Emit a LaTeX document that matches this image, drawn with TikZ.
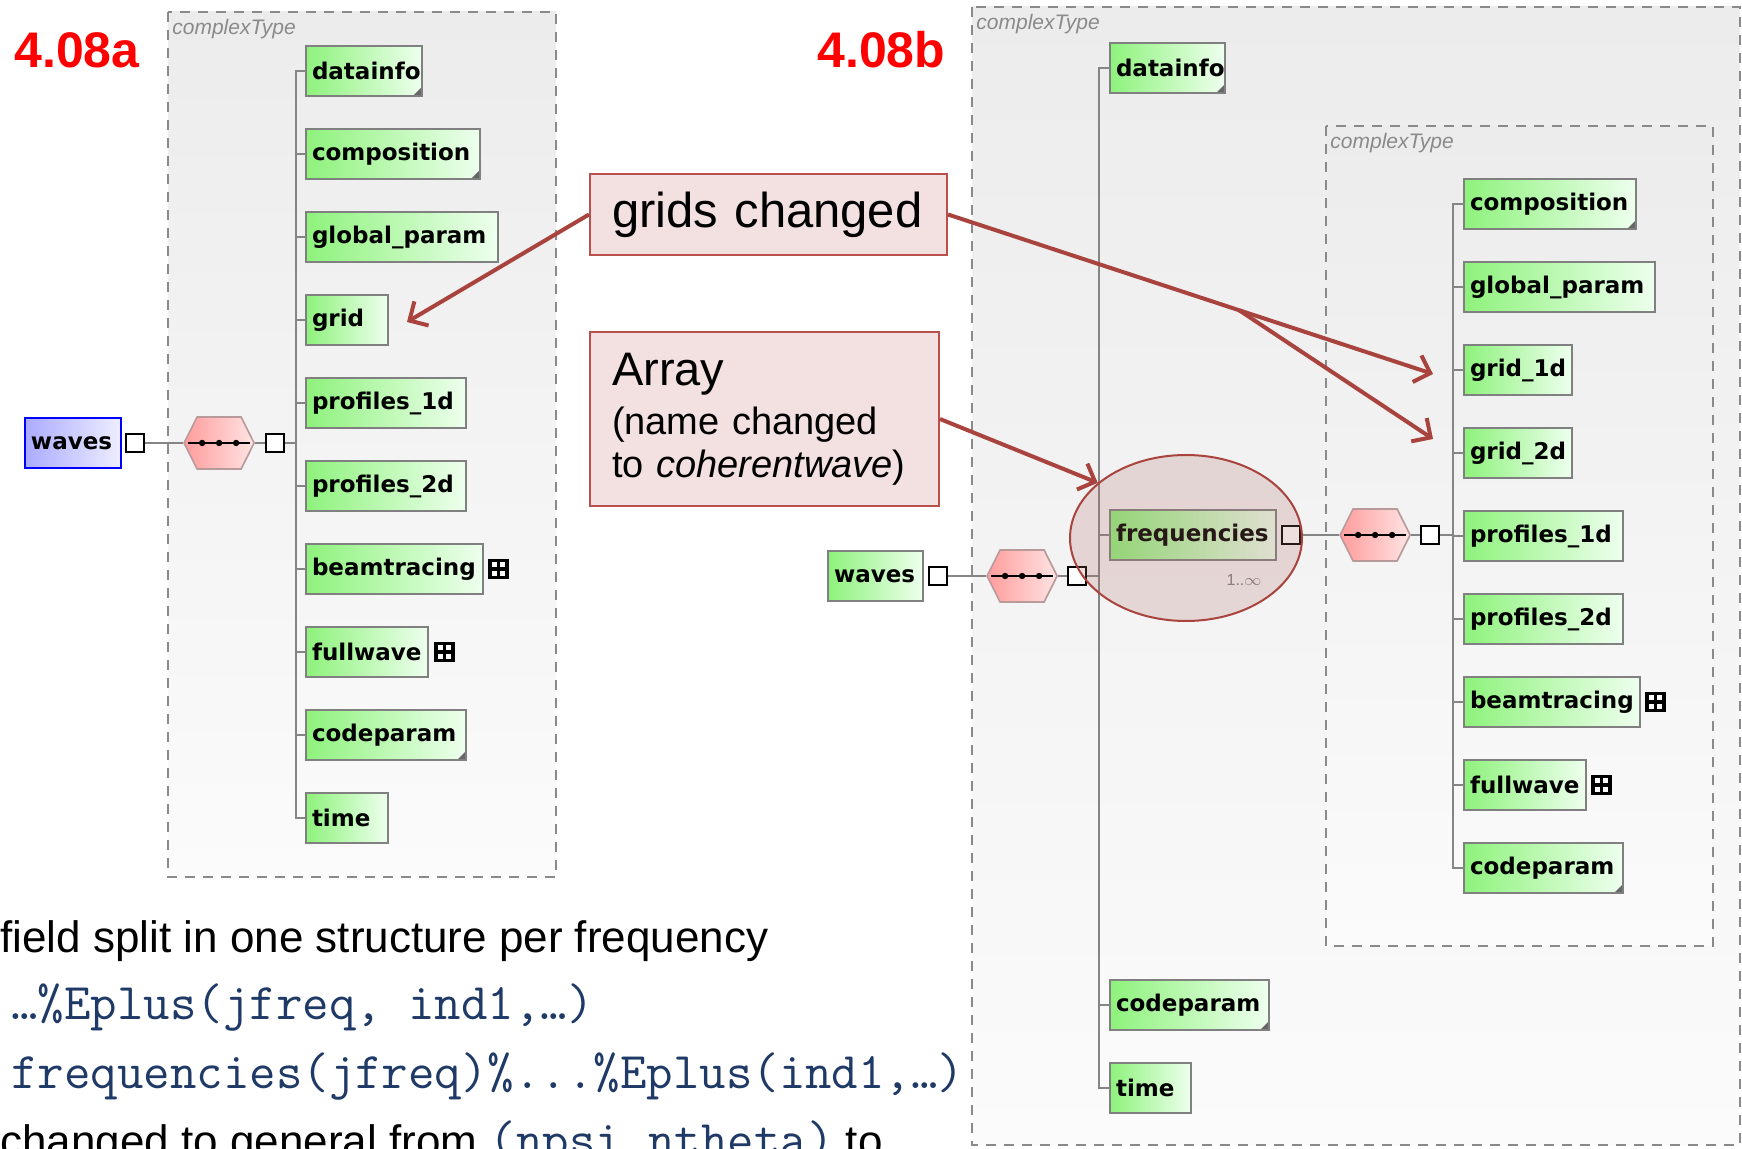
\documentclass[tikz,border=0pt]{standalone}
\usepackage{fontspec}
\setmainfont{Liberation Sans}
\newfontfamily\xsdfont{DejaVu Sans}
\usetikzlibrary{positioning, arrows.meta, shapes.geometric, shapes.symbols, calc}
\definecolor{slidered}{HTML}{FF0000}
\definecolor{codeblue}{HTML}{1F3A66}
\definecolor{framegray}{HTML}{8A8A8A}
\definecolor{paneltop}{HTML}{ECECEC}
\definecolor{panelbot}{HTML}{FBFBFB}
\definecolor{elemgreen}{HTML}{8EF27C}
\definecolor{elemlight}{HTML}{EEFFEE}
\definecolor{elemedge}{HTML}{808080}
\definecolor{rootblue}{HTML}{ABABFF}
\definecolor{rootlight}{HTML}{EEEEFF}
\definecolor{seqpink}{HTML}{FF9C9C}
\definecolor{seqlight}{HTML}{FFE4E4}
\definecolor{seqedge}{HTML}{B89A9A}
\definecolor{treegray}{HTML}{858585}
\definecolor{notefill}{HTML}{F2E1E0}
\definecolor{noteedge}{HTML}{B9504C}
\definecolor{arrowred}{HTML}{A9433E}
\definecolor{ringfill}{HTML}{AF6E69}
\tikzset{
  frame/.style    = {draw=framegray, line width=0.9pt, dash pattern=on 5pt off 4pt,
                    top color=paneltop, bottom color=panelbot},
  typetag/.style  = {anchor=west, inner sep=0pt, text=framegray,
                    font=\itshape\fontsize{10.5}{12}\selectfont},
  elem/.style     = {rectangle, draw=elemedge, line width=1pt, left color=elemgreen,
                    right color=elemlight, minimum height=25pt, inner xsep=3pt,
                    inner ysep=0pt, outer sep=0pt, align=left,
                    font=\xsdfont\bfseries\fontsize{11.5}{13}\selectfont},
  cornered/.style = {path picture={\fill[elemedge!80!black]
                    (path picture bounding box.south east) -- ++(-4.5pt,0)
                    -- ++(4.5pt,4.5pt) -- cycle;}},
  root/.style     = {elem, draw=blue, line width=1.2pt, left color=rootblue,
                    right color=rootlight},
  port/.style     = {rectangle, draw=black, line width=1.1pt, fill=white,
                    minimum size=9pt, inner sep=0pt},
  expand/.style   = {rectangle, draw=black, line width=1.8pt, fill=white,
                    minimum size=8.5pt, inner sep=0pt,
                    path picture={\draw[line width=1.8pt]
                    (path picture bounding box.north) -- (path picture bounding box.south)
                    (path picture bounding box.west) -- (path picture bounding box.east);}},
  seq/.style      = {signal, signal to=east and west, signal pointer angle=127,
                    draw=seqedge, line width=0.8pt, left color=seqpink,
                    right color=seqlight, minimum width=35pt, minimum height=26pt,
                    inner sep=0pt},
  tree/.style     = {draw=treegray, line width=1pt},
  note/.style     = {rectangle, draw=noteedge, line width=1pt, fill=notefill,
                    inner xsep=11pt, align=left, anchor=west},
  ring/.style     = {ellipse, draw=arrowred, line width=1pt, fill=ringfill,
                    fill opacity=0.22, minimum width=116pt, minimum height=83pt},
  callout/.style  = {draw=arrowred, line width=2pt,
                    -{Straight Barb[length=7pt,width=14pt]}},
  tag/.style      = {anchor=base west, inner sep=0pt, text=slidered,
                    font=\bfseries\fontsize{25}{30}\selectfont},
  slide/.style    = {anchor=base west, inner sep=0pt, font=\fontsize{22}{26}\selectfont},
  code/.style     = {anchor=base west, inner sep=0pt, text=codeblue,
                    font=\ttfamily\fontsize{25.7}{29}\selectfont},
}

\begin{document}
\begin{tikzpicture}[x=0.5pt, y=-0.5pt]

  \useasboundingbox (0,0) rectangle (1742,1149);
  \fill[white] (0,0) rectangle (1742,1149);

  % ----- panel frames -----
  \path[frame] (168,12) rectangle (556,877);
  \path[frame] (972,7) rectangle (1740,1145);
  \path[frame] (1326,126) rectangle (1713,946);
  \node[typetag] (ltype) at (172,29) {complexType};
  \node[typetag] (rtype) at (976,24) {complexType};
  \node[typetag] (itype) at (1330,143) {complexType};

  \node[tag] (taga) at (14,68) {4.08a};
  \node[tag] (tagb) at (817,68) {4.08b};

  % ----- 4.08a (left) -----
  \node[elem, cornered, anchor=west, text width=52pt] (ldatainfo) at (306,71) {datainfo};
  \node[elem, cornered, below=16.5pt of ldatainfo.south west, anchor=north west, text width=81pt] (lcomposition) {composition};
  \node[elem, below=16.5pt of lcomposition.south west, anchor=north west, text width=90pt] (lglobal) {global\_param};
  \node[elem, below=16.5pt of lglobal.south west, anchor=north west, text width=35pt] (lgrid) {grid};
  \node[elem, below=16.5pt of lgrid.south west, anchor=north west, text width=74pt] (lprof1) {profiles\_1d};
  \node[elem, below=16.5pt of lprof1.south west, anchor=north west, text width=74pt] (lprof2) {profiles\_2d};
  \node[elem, below=16.5pt of lprof2.south west, anchor=north west, text width=82.5pt] (lbeam) {beamtracing};
  \node[elem, below=16.5pt of lbeam.south west, anchor=north west, text width=55pt] (lfull) {fullwave};
  \node[elem, cornered, below=16.5pt of lfull.south west, anchor=north west, text width=74pt] (lcode) {codeparam};
  \node[elem, below=16.5pt of lcode.south west, anchor=north west, text width=35pt] (ltime) {time};
  \node[expand, right=2.5pt of lbeam] (lbeamx) {};
  \node[expand, right=3pt of lfull] (lfullx) {};

  \node[root, anchor=west, text width=42pt] (lwaves) at (25,443) {waves};
  \node[port, right=2pt of lwaves] (lwavesq) {};
  \node[seq, right=19pt of lwavesq] (lseq) {};
  \node[port, right=5pt of lseq] (lseqsq) {};

  \coordinate (ltrunk) at ([xshift=-5pt]ldatainfo.west);
  \draw[tree] (ldatainfo.west) -- (ltrunk) |- (ltime.west);
  \foreach \n in {lcomposition, lglobal, lgrid, lprof1, lprof2, lbeam, lfull, lcode}
    \draw[tree] (\n.west) -- ++(-5pt,0);
  \draw[tree] (lwavesq) -- (lseq);
  \draw[tree] (lseq) -- (lseqsq);
  \draw[tree] (lseqsq) -- (lseqsq -| ltrunk);

  % ----- 4.08b (right, outer level) -----
  \node[elem, cornered, anchor=west, text width=51.5pt] (rdatainfo) at (1110,68) {datainfo};
  \node[elem, anchor=west, text width=77pt] (rfreq) at (1110,535) {frequencies};
  \node[elem, cornered, anchor=west, text width=73.5pt] (rcode) at (1110,1005) {codeparam};
  \node[elem, below=16.5pt of rcode.south west, anchor=north west, text width=34.5pt] (rtime) {time};
  \node[font=\fontsize{8}{9}\selectfont, text=gray] (frange) at (1244,580) {1..$\infty$};

  \node[elem, anchor=west, text width=41.5pt] (rwaves) at (828,576) {waves};
  \node[port, right=2.5pt of rwaves] (rwavesq) {};
  \node[seq, right=19pt of rwavesq] (rseq) {};
  \node[port, right=4.5pt of rseq] (rseqsq) {};

  \coordinate (rtrunk) at ([xshift=-5.5pt]rdatainfo.west);
  \draw[tree] (rdatainfo.west) -- (rtrunk) |- (rtime.west);
  \foreach \n in {rfreq, rcode}
    \draw[tree] (\n.west) -- ++(-5.5pt,0);
  \draw[tree] (rwavesq) -- (rseq);
  \draw[tree] (rseq) -- (rseqsq);
  \draw[tree] (rseqsq) -- (rseqsq -| rtrunk);

  % ----- 4.08b (inner complexType of frequencies) -----
  \node[port, right=2.5pt of rfreq] (rfreqsq) {};
  \node[seq, right=19pt of rfreqsq] (fseq) {};
  \node[port, right=4.5pt of fseq] (fseqsq) {};

  \node[elem, cornered, anchor=west, text width=80pt] (rcomp) at (1464,204) {composition};
  \node[elem, below=16.5pt of rcomp.south west, anchor=north west, text width=89.5pt] (rglobal) {global\_param};
  \node[elem, below=16.5pt of rglobal.south west, anchor=north west, text width=48pt] (rgrid1) {grid\_1d};
  \node[elem, below=16.5pt of rgrid1.south west, anchor=north west, text width=48pt] (rgrid2) {grid\_2d};
  \node[elem, below=16.5pt of rgrid2.south west, anchor=north west, text width=73.5pt] (rprof1) {profiles\_1d};
  \node[elem, below=16.5pt of rprof1.south west, anchor=north west, text width=73.5pt] (rprof2) {profiles\_2d};
  \node[elem, below=16.5pt of rprof2.south west, anchor=north west, text width=82pt] (rbeam) {beamtracing};
  \node[elem, below=16.5pt of rbeam.south west, anchor=north west, text width=55pt] (rfull) {fullwave};
  \node[elem, cornered, below=16.5pt of rfull.south west, anchor=north west, text width=73.5pt] (rcodein) {codeparam};
  \node[expand, right=2.5pt of rbeam] (rbeamx) {};
  \node[expand, right=2.5pt of rfull] (rfullx) {};

  \coordinate (itrunk) at ([xshift=-5.5pt]rcomp.west);
  \draw[tree] (rcomp.west) -- (itrunk) |- (rcodein.west);
  \foreach \n in {rglobal, rgrid1, rgrid2, rprof1, rprof2, rbeam, rfull}
    \draw[tree] (\n.west) -- ++(-5.5pt,0);
  \draw[tree] (rfreqsq) -- (fseq);
  \draw[tree] (fseq) -- (fseqsq);
  \draw[tree] (fseqsq) -- (fseqsq -| itrunk);

  % sequence markers
  \foreach \s in {lseq, rseq, fseq} {
    \draw[line width=1pt] ([xshift=2.5pt]\s.west) -- ([xshift=-2.5pt]\s.east);
    \foreach \d in {-8.5pt, 0pt, 8.5pt}
      \fill ([xshift=\d]\s.center) circle (1.6pt);
  }

  % ----- callouts -----
  \node[ring] (fring) at (1186,538) {};

  \node[note, text width=156.5pt, minimum height=40.5pt,
        font=\fontsize{24.5}{28}\selectfont] (gridsnote) at (589,214.5) {grids changed};
  \node[note, text width=152.5pt, minimum height=87pt,
        font=\fontsize{19}{21.5}\selectfont] (arraynote) at (589,419)
       {{\fontsize{23.5}{26}\selectfont Array}\\[3pt]
        (name changed\\ to \textit{coherentwave})};

  \coordinate (tipgrid) at ([xshift=9.5pt,yshift=-1pt]lgrid.east);
  \coordinate (tipgrida) at ([xshift=-15.5pt,yshift=-2pt]rgrid1.west);
  \coordinate (tipgridb) at ([xshift=-15.5pt,yshift=7pt]rgrid2.west);
  \coordinate (forkpt) at ($(gridsnote.east)!0.6!(tipgrida)$);

  \draw[callout] (gridsnote.west) -- (tipgrid);
  \draw[callout] (gridsnote.east) -- (tipgrida);
  \draw[callout] (forkpt) -- (tipgridb);
  \draw[callout] (arraynote.east) -- (fring.148);

  % ----- slide text -----
  \node[slide] (splittxt) at (0,952) {field split in one structure per frequency};
  \node[code] (oldpath) at (11,1020) {…\%Eplus(jfreq, ind1,…)};
  \node[code] (newpath) at (11,1088) {frequencies(jfreq)\%...\%Eplus(ind1,…)};
  \node[slide] (gridtxt) at (0,1156)
       {changed to general from {\color{codeblue}\ttfamily\fontsize{25.7}{29}\selectfont (npsi,ntheta)} to};

\end{tikzpicture}
\end{document}
